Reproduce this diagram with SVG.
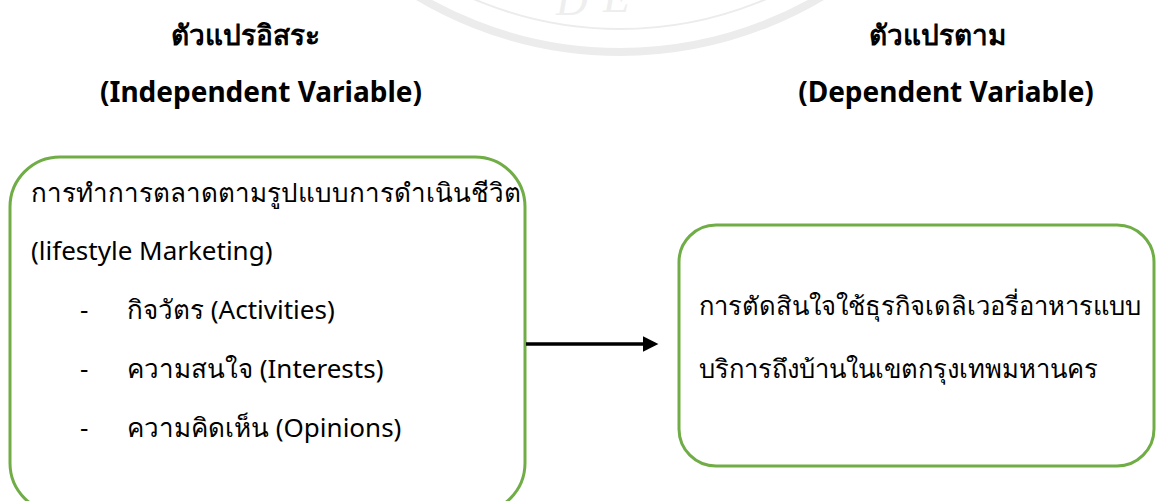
<svg xmlns="http://www.w3.org/2000/svg" width="1156" height="501" viewBox="0 0 1156 501">
<style>
.title{font-family:"Noto Sans","DejaVu Sans",sans-serif;font-weight:bold;font-size:28px;fill:#000;text-anchor:middle}
.body{font-family:"Noto Sans","DejaVu Sans",sans-serif;font-size:26px;fill:#000}
.body2{font-family:"Noto Sans","DejaVu Sans",sans-serif;font-size:25.6px;fill:#000}
.box{fill:#fff;stroke:#70ad47;stroke-width:3}
.wm{fill:none;stroke:#ececec}
</style>
<defs>
<marker id="arrow" viewBox="0 0 10 10" refX="0" refY="5" markerWidth="4.6" markerHeight="4.4" markerUnits="strokeWidth" orient="auto">
<path d="M0,0 L10,5 L0,10 z" fill="#000"/>
</marker>
</defs>
<rect width="1156" height="501" fill="#fff"/>
<g id="watermark">
<circle class="wm" cx="620" cy="-343" r="395" stroke-width="8"/>
<circle class="wm" cx="620" cy="-343" r="372" stroke-width="2"/>
<text x="556" y="15" font-family="Liberation Serif,serif" font-style="italic" font-size="44" fill="#eeeeee">D</text>
<text x="603" y="12" font-family="Liberation Serif,serif" font-style="italic" font-size="44" fill="#eeeeee">E</text>
</g>
<g id="titles">
<text class="title" x="245" y="45">ตัวแปรอิสระ</text>
<text class="title" x="261" y="102">(Independent Variable)</text>
<text class="title" x="937" y="45">ตัวแปรตาม</text>
<text class="title" x="946" y="102">(Dependent Variable)</text>
</g>
<g id="independent">
<rect class="box" x="10" y="157" width="515" height="356" rx="50" ry="50"/>
<text class="body" x="31" y="202">การทำการตลาดตามรูปแบบการดำเนินชีวิต</text>
<text class="body" x="31" y="260">(lifestyle Marketing)</text>
<text class="body" x="80" y="319">-</text>
<text class="body" x="127" y="319">กิจวัตร (Activities)</text>
<text class="body" x="80" y="378">-</text>
<text class="body" x="127" y="378">ความสนใจ (Interests)</text>
<text class="body" x="80" y="437">-</text>
<text class="body" x="127" y="437">ความคิดเห็น (Opinions)</text>
</g>
<g id="dependent">
<rect class="box" x="679" y="225" width="475" height="241" rx="37" ry="37"/>
<text class="body2" x="699" y="315">การตัดสินใจใช้ธุรกิจเดลิเวอรี่อาหารแบบ</text>
<text class="body2" x="699" y="378">บริการถึงบ้านในเขตกรุงเทพมหานคร</text>
</g>
<g id="connectors">
<line x1="526" y1="344" x2="643" y2="344" stroke="#000" stroke-width="3.5" marker-end="url(#arrow)"/>
</g>
</svg>
